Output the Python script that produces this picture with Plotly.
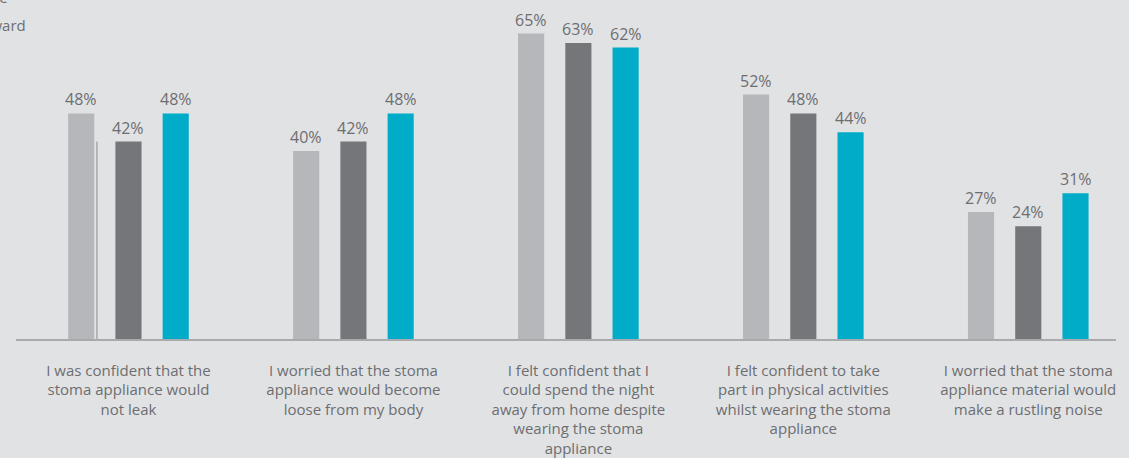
import plotly.graph_objects as go

categories = [
    "I was confident that the<br>stoma appliance would<br>not leak",
    "I worried that the stoma<br>appliance would become<br>loose from my body",
    "I felt confident that I<br>could spend the night<br>away from home despite<br>wearing the stoma<br>appliance",
    "I felt confident to take<br>part in physical activities<br>whilst wearing the stoma<br>appliance",
    "I worried that the stoma<br>appliance material would<br>make a rustling noise",
]
series_names = ["Before", "During", "Afterward"]
series_a = [48, 40, 65, 52, 27]
series_b = [42, 42, 63, 48, 24]
series_c = [48, 48, 62, 44, 31]

colors = ["#b6b7ba", "#75767a", "#00acc8"]
bg = "#e1e2e4"
text_col = "#6d6e71"
font_family = "Open Sans, sans-serif"

bargap = 0.37
bargroupgap = 0.447
slot = (1 - bargap) / 3

x = list(range(len(categories)))
fig = go.Figure()
for name, vals, col in zip(series_names, [series_a, series_b, series_c], colors):
    fig.add_trace(go.Bar(x=x, y=vals, name=name, marker_color=col,
                         marker_line_width=0, hoverinfo="name+y"))

# value labels above bars
annotations = []
for j, vals in enumerate([series_a, series_b, series_c]):
    for i, v in enumerate(vals):
        annotations.append(dict(
            x=i + (j - 1) * slot, y=v, xref="x", yref="y",
            text=f"{v}%", showarrow=False, yanchor="bottom", yshift=1,
            font=dict(size=16, color=text_col, family=font_family)))

# cropped legend text in the top-left corner
annotations.append(dict(x=0.0, y=1.0, xref="paper", yref="paper", xanchor="right",
                        yanchor="middle", xshift=-6, yshift=13, text="Baseline",
                        showarrow=False, font=dict(size=15, color=text_col, family=font_family)))
annotations.append(dict(x=0.0, y=1.0, xref="paper", yref="paper", xanchor="right",
                        yanchor="middle", xshift=12, yshift=-15, text="Afterward",
                        showarrow=False, font=dict(size=15, color=text_col, family=font_family)))

# thin stray line next to the first light bar
fig.add_shape(type="line", xref="x", yref="y", x0=-0.14, x1=-0.14, y0=0, y1=series_b[0],
              line=dict(color="#8a8b8e", width=1))

fig.update_layout(
    width=1129, height=458,
    paper_bgcolor=bg, plot_bgcolor=bg,
    barmode="group", bargap=bargap, bargroupgap=bargroupgap,
    showlegend=False,
    margin=dict(l=16, r=13, t=10, b=119),
    annotations=annotations,
    font=dict(family=font_family, color=text_col, size=15),
    xaxis=dict(range=[-0.5, 4.39], tickvals=x, ticktext=categories,
               showline=True, linecolor="#a9aaad", linewidth=1.5,
               showgrid=False, zeroline=False, ticks="", ticklabelstandoff=17,
               automargin=False,
               tickfont=dict(size=15, color=text_col, family=font_family)),
    yaxis=dict(range=[0, 70], visible=False, showgrid=False, zeroline=False,
               automargin=False),
)
fig.update_xaxes(tickangle=0)

fig.write_html("out.html", config={"displayModeBar": False},
               post_script="document.body.style.margin='0';")
